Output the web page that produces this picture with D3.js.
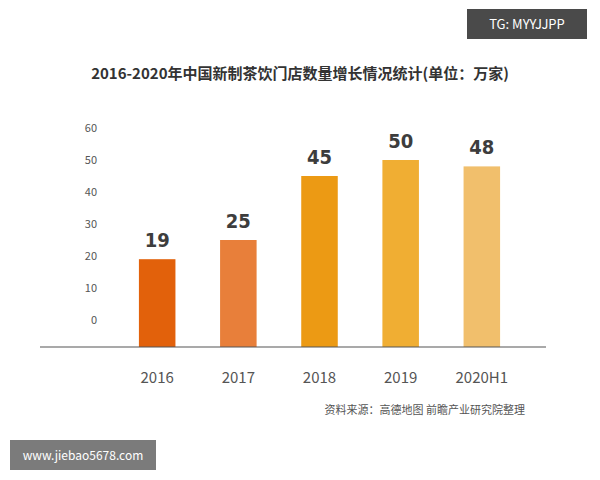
<!DOCTYPE html>
<html><head><meta charset="utf-8">
<script src="https://cdn.jsdelivr.net/npm/d3@7/dist/d3.min.js"></script>
<style>body{margin:0;background:#fff}svg{display:block}</style>
</head><body><div id="chart"></div>
<script>
const years = ['2016', '2017', '2018', '2019', '2020H1'];
const stores = [19, 25, 45, 50, 48];
const barColors = ['#e2610b', '#e87f3a', '#ec9a14', '#f0ae33', '#f1bf6c'];
const yTicks = [0, 10, 20, 30, 40, 50, 60];

const font = "'Noto Sans CJK SC', 'Noto Sans', sans-serif";
const svg = d3.select('#chart').append('svg').attr('width', 600).attr('height', 480)
  .style('font-family', font);

// watermark boxes
svg.append('rect').attr('x', 467).attr('y', 9).attr('width', 120).attr('height', 30).attr('fill', '#4a4a4a');
svg.append('text').attr('x', 527).attr('y', 29).attr('text-anchor', 'middle')
  .attr('fill', '#fff').attr('font-size', 13).text('TG: MYYJJPP');
svg.append('rect').attr('x', 10).attr('y', 440).attr('width', 146).attr('height', 30).attr('fill', '#7b7b7b');
svg.append('text').attr('x', 83).attr('y', 460).attr('text-anchor', 'middle')
  .attr('fill', '#fff').attr('font-size', 12).text('www.jiebao5678.com');

// title
svg.append('text').attr('x', 300).attr('y', 79).attr('text-anchor', 'middle')
  .attr('font-size', 15).attr('font-weight', 'bold').attr('fill', '#333')
  .text('2016-2020年中国新制茶饮门店数量增长情况统计(单位：万家)');

const x = d3.scaleBand().domain(years).range([117, 522]).paddingInner(0.55).paddingOuter(0.27);
const y = d3.scaleLinear().domain([0, 60]).range([320, 128]);
const baseY = 347;

// y tick labels
svg.append('g').selectAll('text').data(yTicks).join('text')
  .attr('x', 97).attr('y', d => y(d) + 4).attr('text-anchor', 'end')
  .attr('font-size', 11).attr('fill', '#555').text(d => d);

svg.selectAll('rect.bar').data(stores).join('rect').attr('class', 'bar')
  .attr('x', (d, i) => x(years[i])).attr('width', x.bandwidth())
  .attr('y', d => y(d)).attr('height', d => baseY - y(d))
  .attr('fill', (d, i) => barColors[i]);

svg.selectAll('text.val').data(stores).join('text').attr('class', 'val')
  .attr('x', (d, i) => x(years[i]) + x.bandwidth() / 2).attr('y', d => y(d) - 12)
  .attr('text-anchor', 'middle').attr('font-size', 20).attr('font-weight', 'bold')
  .style('font-family', "'DejaVu Sans Condensed', sans-serif")
  .attr('fill', '#3d3d3d').text(d => d);

svg.append('line').attr('x1', 40).attr('x2', 546).attr('y1', baseY).attr('y2', baseY)
  .attr('stroke', '#555').attr('stroke-width', 1.2);

svg.selectAll('text.cat').data(years).join('text').attr('class', 'cat')
  .attr('x', d => x(d) + x.bandwidth() / 2).attr('y', 383)
  .attr('text-anchor', 'middle').attr('font-size', 15).attr('fill', '#555').text(d => d);

svg.append('text').attr('x', 525).attr('y', 414).attr('text-anchor', 'end')
  .attr('font-size', 11).attr('fill', '#555').text('资料来源：高德地图 前瞻产业研究院整理');
</script></body></html>
